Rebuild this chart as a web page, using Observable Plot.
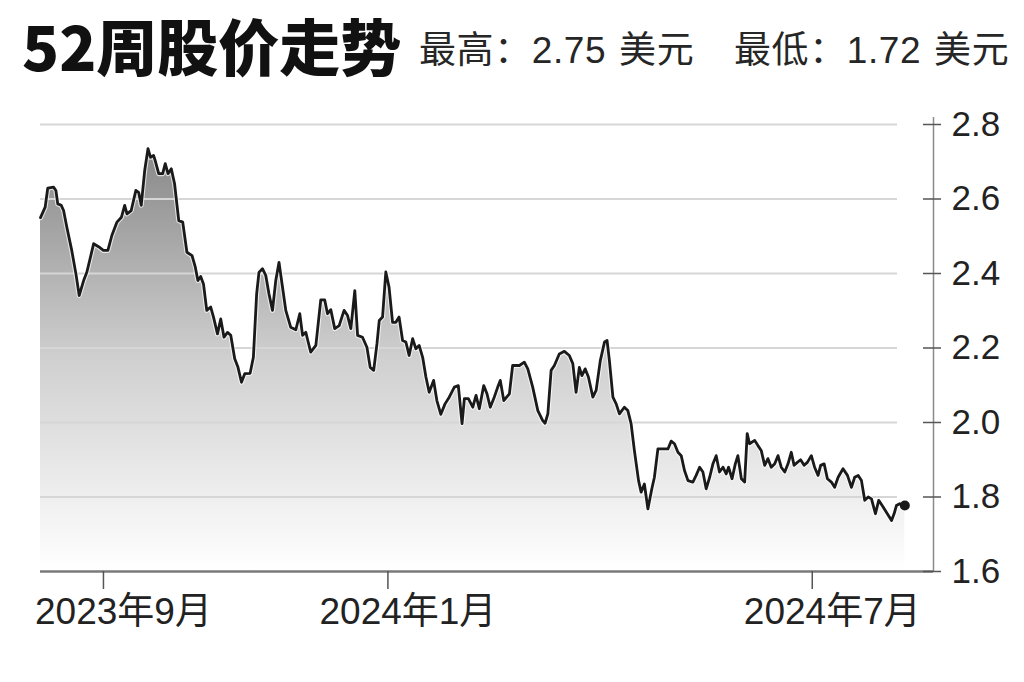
<!DOCTYPE html>
<html>
<head>
<meta charset="utf-8">
<script src="https://cdn.jsdelivr.net/npm/d3@7"></script>
<script src="https://cdn.jsdelivr.net/npm/@observablehq/plot@0.6"></script>
<style>
  html, body { margin: 0; padding: 0; background: #fff; }
  #wrap { width: 1024px; height: 682px; position: relative; overflow: hidden; }
  #header { position: relative; height: 100px; }
  #title { position: absolute; left: 22px; top: 14px; font-family: "Noto Sans CJK SC", sans-serif; font-weight: 900; font-size: 61px; line-height: 1; color: #111; white-space: nowrap; }
  .sub { position: absolute; top: 32px; font-family: "Liberation Sans", "Noto Sans CJK SC", sans-serif; font-size: 37px; line-height: 1; color: #262626; white-space: nowrap; word-spacing: 2px; letter-spacing: 0.6px; }
  #chart svg { display: block; }
</style>
</head>
<body>
<div id="wrap">
  <div id="header">
    <div id="title"></div>
    <div class="sub" id="hi" style="left:419px"></div>
    <div class="sub" id="lo" style="left:734px"></div>
  </div>
  <div id="chart"></div>
</div>
<script>
const titleText = "52周股价走势";
const highText = "最高：2.75 美元";
const lowText = "最低：1.72 美元";

const startDate = "2023-08-05";
const endDay = 383;

const days = [
  0,2.0,3.1,5.6,6.6,7.4,8.9,9.9,11.3,13.4,15.2,16.6,18.5,19.9,22.8,24.9,27.0,28.9,30.6,32.8,34.7,36.1,37.1,38.9,40.9,42.1,43.2,44.7,46.1,47.2,48.5,49.2,50.7,52.4,53.5,54.7,56.1,57.5,59.3,61.0,62.8,65.0,66.4,67.5,
  68.7,69.9,71.3,73.0,74.2,75.9,77.3,78.7,80.2,81.6,83.3,84.7,86.2,87.6,89.9,91.3,92.7,93.7,95.2,96.6,98.0,99.5,100.9,102.3,103.8,105.2,107.3,109.5,111.2,112.4,113.8,114.8,115.9,118.1,120.2,121.9,123.1,124.5,126.2,128.1,
  130.2,131.7,133.1,134.8,136.0,138.1,140.0,141.4,142.9,144.3,145.3,146.7,148.1,149.5,151.0,152.4,153.8,155.3,156.7,158.1,159.6,161.0,162.4,163.9,165.3,166.7,168.6,170.0,171.7,173.5,175.3,177.5,179.2,180.8,181.8,183.5,185.4,186.8,188.2,190.1,191.5,192.9,
  194.6,196.1,197.2,198.7,201.1,202.5,205.4,207.5,209.0,211.1,213.3,215.4,216.4,217.6,219.0,220.4,222.5,224.7,226.8,228.3,229.7,231.1,232.2,233.6,235.0,236.9,238.3,240.1,241.9,243.0,244.0,245.5,246.9,248.3,250.4,251.9,253.3,254.7,256.5,257.6,259.0,260.5,262.2,263.3,264.8,
  269.1,270.5,271.9,273.4,274.8,276.2,277.7,279.8,281.2,282.7,284.1,285.5,287.0,288.4,289.8,291.2,292.7,294.1,295.1,296.6,298.0,299.1,300.6,302.0,303.1,304.1,306.3,307.7,309.1,310.6,312.0,313.4,314.9,316.3,317.7,319.2,320.6,322.0,323.2,324.6,326.0,327.5,328.9,330.6,332.0,333.5,334.6,336.1,337.5,339.2,340.6,342.1,344.2,346.1,347.8,349.2,350.7,352.1,353.5,355.0,356.4,358.1,359.5,361.4,362.8,365.0,366.1,367.1,368.5,370.7
];

const prices = [
  2.55,2.578,2.629,2.632,2.623,2.587,2.583,2.569,2.524,2.462,2.399,2.341,2.381,2.404,2.480,2.472,2.462,2.462,2.502,2.538,2.551,2.583,2.560,2.569,2.623,2.618,2.583,2.677,2.735,2.712,2.717,2.703,2.668,2.668,2.695,2.668,2.681,2.641,2.542,2.538,2.457,2.448,2.417,2.381,
  2.392,2.372,2.301,2.310,2.283,2.238,2.278,2.229,2.242,2.234,2.171,2.148,2.108,2.131,2.132,2.175,2.345,2.403,2.413,2.395,2.345,2.301,2.381,2.430,2.363,2.301,2.256,2.249,2.292,2.234,2.242,2.216,2.189,2.207,2.329,2.329,2.292,2.303,2.252,2.260,
  2.301,2.287,2.252,2.354,2.234,2.229,2.202,2.148,2.140,2.211,2.274,2.283,2.404,2.363,2.269,2.269,2.283,2.220,2.216,2.180,2.225,2.198,2.207,2.175,2.122,2.081,2.113,2.059,2.022,2.050,2.068,2.095,2.099,1.997,2.064,2.064,2.041,2.073,2.037,2.099,2.077,2.041,
  2.068,2.095,2.113,2.059,2.077,2.153,2.153,2.162,2.144,2.095,2.032,2.005,1.998,2.023,2.140,2.153,2.184,2.191,2.180,2.158,2.081,2.148,2.126,2.144,2.122,2.068,2.086,2.166,2.216,2.220,2.166,2.068,2.050,2.023,2.041,2.032,1.997,1.925,1.844,1.813,1.835,1.768,1.822,1.853,1.929,
  1.929,1.950,1.943,1.920,1.911,1.871,1.844,1.840,1.858,1.880,1.867,1.822,1.853,1.889,1.911,1.867,1.880,1.862,1.880,1.849,1.889,1.911,1.849,1.840,1.970,1.943,1.952,1.938,1.925,1.885,1.903,1.880,1.889,1.911,1.880,1.867,1.889,1.920,1.885,1.893,1.900,1.885,1.893,1.911,1.880,1.858,1.885,1.889,1.849,1.840,1.826,1.853,1.876,1.858,1.826,1.853,1.858,1.844,1.791,1.800,1.795,1.755,1.791,1.773,1.759,1.737,1.755,1.777,1.782,1.777
];

const xTickDates = ["2023-09-01", "2024-01-01", "2024-07-01"];
const xTickLabels = ["2023年9月", "2024年1月", "2024年7月"];
const yTicks = [1.6, 1.8, 2.0, 2.2, 2.4, 2.6, 2.8];
const yMin = 1.6, yMax = 2.8;

document.getElementById("title").textContent = titleText;
document.getElementById("hi").textContent = highText;
document.getElementById("lo").textContent = lowText;

const t0 = new Date(startDate + "T00:00:00Z").getTime();
const toDate = d => new Date(t0 + d * 864e5);
const data = days.map((d, i) => ({date: toDate(d), price: prices[i]}));
const last = data[data.length - 1];
const xEnd = toDate(endDay);
const tickDates = xTickDates.map(s => new Date(s + "T00:00:00Z"));
const labelOf = d => xTickLabels[tickDates.findIndex(t => +t === +d)];

const gradDefs = () => {
  const defs = document.createElementNS("http://www.w3.org/2000/svg", "defs");
  defs.innerHTML = `<linearGradient id="areaGrad" x1="0" y1="0" x2="0" y2="1">
      <stop offset="0" stop-color="#888888"/>
      <stop offset="0.5" stop-color="#d0d0d0"/>
      <stop offset="1" stop-color="#ffffff"/>
    </linearGradient>`;
  return defs;
};

const font = '"Liberation Sans", "Noto Sans CJK SC", sans-serif';

const chart = Plot.plot({
  width: 1024,
  height: 582,
  marginTop: 24,
  marginBottom: 111,
  marginLeft: 40,
  marginRight: 91,
  style: {fontFamily: font, color: "#222", background: "#fff", overflow: "visible"},
  x: {type: "utc", domain: [toDate(0), xEnd]},
  y: {domain: [yMin, yMax]},
  marks: [
    gradDefs,
    Plot.areaY(data, {x: "date", y1: yMin, y2: "price", fill: "url(#areaGrad)"}),
    Plot.ruleY(yTicks.slice(1), {stroke: "#d6d6d6", strokeWidth: 2, insetRight: 36}),
    Plot.ruleY([yMin], {stroke: "#7a7a7a", strokeWidth: 2.5}),
    Plot.ruleX([xEnd], {y1: yMin, y2: yMax + 0.019, stroke: "#8a8a8a", strokeWidth: 1.5}),
    Plot.axisY({anchor: "right", ticks: yTicks, tickSize: 18, dx: -11, tickFormat: () => "", label: null, stroke: "#555", strokeWidth: 1.5}),
    Plot.axisY({anchor: "right", ticks: yTicks, tickSize: 0, tickPadding: 18, tickFormat: d => d.toFixed(1), label: null, fontSize: 35, fill: "#222"}),
    Plot.axisX({ticks: tickDates, tickSize: 18, tickFormat: () => "", label: null, stroke: "#555", strokeWidth: 1.5}),
    Plot.axisX({ticks: tickDates, tickSize: 0, tickPadding: 26, dx: 20, tickFormat: labelOf, label: null, fontSize: 37, fill: "#222"}),
    Plot.line(data, {x: "date", y: "price", stroke: "#fff", strokeWidth: 5, strokeOpacity: 0.7, strokeLinejoin: "round"}),
    Plot.line(data, {x: "date", y: "price", stroke: "#1a1a1a", strokeWidth: 2.8, strokeLinejoin: "round"}),
    Plot.dot([last], {x: "date", y: "price", r: 5, fill: "#1a1a1a"})
  ]
});
document.getElementById("chart").appendChild(chart);
</script>
</body>
</html>
